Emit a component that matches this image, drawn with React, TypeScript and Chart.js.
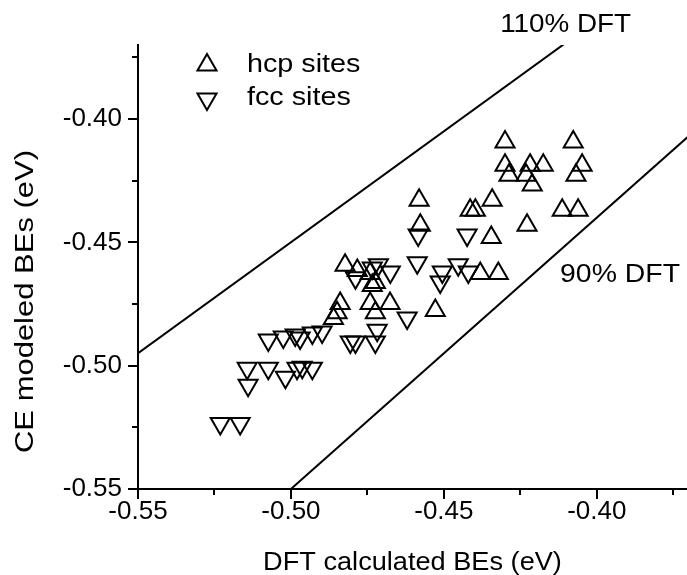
import React, { useEffect, useRef } from 'react';
import { Chart, registerables } from 'chart.js';
import { drawPoint } from 'chart.js/helpers';

Chart.register(...registerables);

const FONT = '"Liberation Sans", Arial, Helvetica, sans-serif';

// Axis ticks
const X_TICKS = [-0.55, -0.5, -0.45, -0.4];
const Y_TICKS = [-0.55, -0.5, -0.45, -0.4];
const X_MINOR = [-0.525, -0.475, -0.425, -0.375];
const Y_MINOR = [-0.525, -0.475, -0.425, -0.375];

// Texts
const X_TITLE = 'DFT calculated BEs (eV)';
const Y_TITLE = 'CE modeled BEs (eV)';
const SERIES_LABELS = ['hcp sites', 'fcc sites'];
const LINE_LABELS = ['110% DFT', '90% DFT'];

// hcp sites (up triangles)
const HCP_X = [
  -0.43, -0.4077, -0.43, -0.4218, -0.4175, -0.4048, -0.4287, -0.4231, -0.4068, -0.4211,
  -0.4581, -0.4342, -0.4414, -0.4397, -0.4113, -0.4061, -0.4577, -0.4228, -0.4345, -0.4381,
  -0.4322, -0.4741, -0.4676, -0.4724, -0.4528, -0.4823, -0.4783, -0.4741, -0.4724, -0.4839,
  -0.4849, -0.4861, -0.4734,
];
const HCP_Y = [
  -0.4093, -0.4093, -0.4187, -0.4187, -0.4187, -0.4187, -0.4228, -0.4228, -0.4228, -0.4268,
  -0.4329, -0.4329, -0.437, -0.437, -0.437, -0.437, -0.4431, -0.4431, -0.448, -0.4626,
  -0.4626, -0.4748, -0.4748, -0.4785, -0.4776, -0.4593, -0.4614, -0.4626, -0.4663, -0.4748,
  -0.4785, -0.4809, -0.4675,
];

// fcc sites (down triangles)
const FCC_X = [
  -0.4584, -0.4587, -0.4424, -0.4505, -0.4512, -0.4453, -0.442, -0.4675, -0.4714, -0.4789,
  -0.462, -0.4718, -0.4789, -0.4806, -0.4724, -0.5074, -0.5025, -0.4986, -0.497, -0.493,
  -0.4898, -0.5143, -0.514, -0.5074, -0.5018, -0.4963, -0.493, -0.5231, -0.5166, -0.498,
  -0.4734,
];
const FCC_Y = [
  -0.447, -0.4583, -0.447, -0.462, -0.4661, -0.4591, -0.462, -0.462, -0.4591, -0.4644,
  -0.4807, -0.4856, -0.4904, -0.4904, -0.4904, -0.4896, -0.4884, -0.4876, -0.4888, -0.4868,
  -0.4864, -0.501, -0.5079, -0.501, -0.5047, -0.5006, -0.501, -0.5234, -0.5234, -0.501,
  -0.4604,
];

// Reference lines (endpoints)
const LINE_110_X = [-0.56, -0.36];
const LINE_110_Y = [-0.504, -0.324];
const LINE_90_X = [-0.56, -0.36];
const LINE_90_Y = [-0.616, -0.396];

const zip = (xs: number[], ys: number[]) => xs.map((x, i) => ({ x, y: ys[i] }));

function drawText(
  ctx: CanvasRenderingContext2D,
  text: string,
  x: number,
  y: number,
  size: number,
  sx: number,
  align: CanvasTextAlign,
  rotate = false
) {
  ctx.save();
  ctx.translate(x, y);
  if (rotate) ctx.rotate(-Math.PI / 2);
  ctx.scale(sx, 1);
  ctx.font = `${size}px ${FONT}`;
  ctx.fillStyle = '#000';
  ctx.textAlign = align;
  ctx.textBaseline = 'alphabetic';
  ctx.fillText(text, 0, 0);
  ctx.restore();
}

const decorPlugin = {
  id: 'decor',
  afterDraw(chart: any) {
    const ctx: CanvasRenderingContext2D = chart.ctx;
    const xs = chart.scales.x;
    const ys = chart.scales.y;
    const area = chart.chartArea;
    ctx.save();
    // minor ticks
    ctx.strokeStyle = '#000';
    ctx.lineWidth = 2;
    ctx.beginPath();
    X_MINOR.forEach((v) => {
      const px = Math.round(xs.getPixelForValue(v));
      ctx.moveTo(px, area.bottom);
      ctx.lineTo(px, area.bottom + 6);
    });
    Y_MINOR.forEach((v) => {
      const py = Math.round(ys.getPixelForValue(v));
      ctx.moveTo(area.left - 6, py);
      ctx.lineTo(area.left, py);
    });
    ctx.stroke();

    // line annotations
    drawText(ctx, LINE_LABELS[0], xs.getPixelForValue(-0.4316), ys.getPixelForValue(-0.3646), 25, 1.113, 'left');
    drawText(ctx, LINE_LABELS[1], xs.getPixelForValue(-0.412), ys.getPixelForValue(-0.4661), 25, 1.136, 'left');

    // legend
    const styles = [0, 180];
    const ly = [65, 99];
    const by = [71.7, 105];
    styles.forEach((rot, i) => {
      ctx.fillStyle = 'rgba(0,0,0,0)';
      ctx.strokeStyle = '#000';
      ctx.lineWidth = 2;
      drawPoint(ctx, { pointStyle: 'triangle', radius: 11, rotation: rot, borderWidth: 2 } as any, 207, ly[i]);
      drawText(ctx, SERIES_LABELS[i], 247, by[i], 25, 1.15, 'left');
    });

    // axis titles
    drawText(ctx, X_TITLE, (area.left + area.right) / 2, 570, 25.6, 1.061, 'center');
    drawText(ctx, Y_TITLE, 33.3, 301.5, 26.5, 1.169, 'center', true);
    ctx.restore();
  },
};

export default function App() {
  const ref = useRef<HTMLCanvasElement>(null);
  useEffect(() => {
    if (!ref.current) return;
    const tickFont = { family: FONT, size: 26 };
    const chart = new Chart(ref.current, {
      type: 'scatter',
      data: {
        datasets: [
          {
            label: SERIES_LABELS[0],
            data: zip(HCP_X, HCP_Y),
            pointStyle: 'triangle',
            pointRadius: 11,
            pointRotation: 0,
            pointBorderWidth: 2,
            borderColor: '#000',
            backgroundColor: 'rgba(0,0,0,0)',
          },
          {
            label: SERIES_LABELS[1],
            data: zip(FCC_X, FCC_Y),
            pointStyle: 'triangle',
            pointRadius: 11,
            pointRotation: 180,
            pointBorderWidth: 2,
            borderColor: '#000',
            backgroundColor: 'rgba(0,0,0,0)',
          },
          {
            label: LINE_LABELS[0],
            data: zip(LINE_110_X, LINE_110_Y),
            showLine: true,
            pointRadius: 0,
            borderWidth: 2,
            borderColor: '#000',
            backgroundColor: 'rgba(0,0,0,0)',
          },
          {
            label: LINE_LABELS[1],
            data: zip(LINE_90_X, LINE_90_Y),
            showLine: true,
            pointRadius: 0,
            borderWidth: 2,
            borderColor: '#000',
            backgroundColor: 'rgba(0,0,0,0)',
          },
        ],
      },
      options: {
        responsive: false,
        animation: false,
        devicePixelRatio: 1,
        events: [],
        layout: { autoPadding: false, padding: { left: 0, right: 0, top: 45, bottom: 0 } },
        plugins: {
          legend: { display: false },
          tooltip: { enabled: false },
          title: { display: false },
        },
        scales: {
          x: {
            type: 'linear',
            position: 'bottom',
            min: -0.55,
            max: -0.3705,
            afterBuildTicks: (s: any) => {
              s.ticks = X_TICKS.map((v) => ({ value: v }));
            },
            afterFit: (s: any) => {
              s.height = 86;
            },
            grid: {
              display: true,
              drawOnChartArea: false,
              drawTicks: true,
              tickLength: 10,
              color: '#000',
              lineWidth: 2,
            },
            border: { display: true, color: '#000', width: 2 },
            ticks: {
              color: '#000',
              font: tickFont,
              padding: -3,
              maxRotation: 0,
              autoSkip: false,
              callback: (v: any) => Number(v).toFixed(2),
            },
          },
          y: {
            type: 'linear',
            position: 'left',
            min: -0.55,
            max: -0.37,
            afterBuildTicks: (s: any) => {
              s.ticks = Y_TICKS.map((v) => ({ value: v }));
            },
            afterFit: (s: any) => {
              s.width = 138;
            },
            grid: {
              display: true,
              drawOnChartArea: false,
              drawTicks: true,
              tickLength: 10,
              color: '#000',
              lineWidth: 2,
            },
            border: { display: true, color: '#000', width: 2 },
            ticks: {
              color: '#000',
              font: tickFont,
              padding: 6,
              autoSkip: false,
              callback: (v: any) => Number(v).toFixed(2),
            },
          },
        },
      } as any,
      plugins: [decorPlugin],
    });
    return () => chart.destroy();
  }, []);
  return (
    <div style={{ position: 'absolute', left: 0, top: 0, width: 687, height: 575, background: '#fff' }}>
      <canvas ref={ref} width={687} height={575} />
    </div>
  );
}
